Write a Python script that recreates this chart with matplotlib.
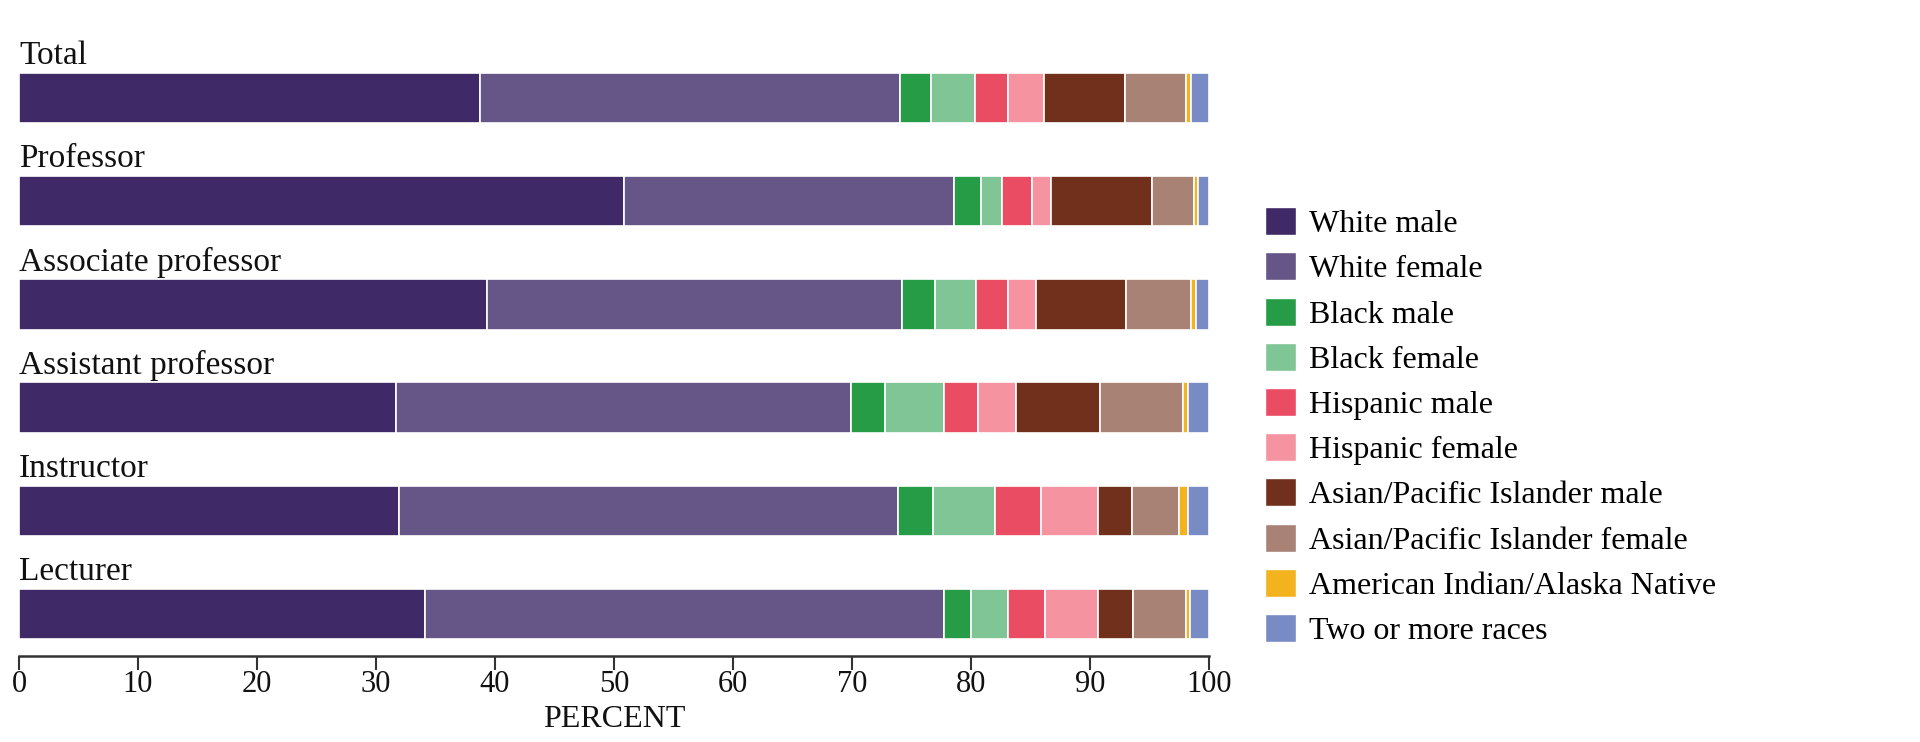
import numpy as np
import matplotlib
matplotlib.use("Agg")
import matplotlib.pyplot as plt
from matplotlib.patches import Patch

plt.rcParams['font.family'] = ['Liberation Serif', 'DejaVu Serif']

# ranks, top to bottom
ranks = ["Total", "Professor", "Associate professor", "Assistant professor",
         "Instructor", "Lecturer"]

groups = ["White male", "White female", "Black male", "Black female",
          "Hispanic male", "Hispanic female", "Asian/Pacific Islander male",
          "Asian/Pacific Islander female", "American Indian/Alaska Native",
          "Two or more races"]

colors = ["#3f2967", "#665587", "#279c47", "#80c595", "#e94c63",
          "#f693a0", "#70301b", "#a78275", "#f2b31f", "#788bc5"]

# percent shares, one list per group, in rank order
white_male = [38.7, 50.8, 39.3, 31.7, 31.9, 34.1]
white_female = [35.3, 27.8, 34.9, 38.2, 42.0, 43.6]
black_male = [2.6, 2.2, 2.8, 2.9, 2.9, 2.3]
black_female = [3.7, 1.8, 3.4, 4.9, 5.2, 3.1]
hispanic_male = [2.8, 2.5, 2.7, 2.9, 3.9, 3.1]
hispanic_female = [3.0, 1.6, 2.4, 3.2, 4.8, 4.5]
asian_male = [6.8, 8.5, 7.5, 7.0, 2.8, 2.9]
asian_female = [5.2, 3.5, 5.5, 7.0, 4.0, 4.5]
aian = [0.4, 0.4, 0.4, 0.4, 0.7, 0.3]
two_plus = [1.5, 0.9, 1.1, 1.8, 1.8, 1.6]

series = [white_male, white_female, black_male, black_female, hispanic_male,
          hispanic_female, asian_male, asian_female, aian, two_plus]

fig = plt.figure(figsize=(19.2, 7.42), dpi=100)
ax = fig.add_axes([0.0099, 0.1153, 0.6198, 0.857])

ypos = np.arange(len(ranks))
bar_h = 0.49
left = np.zeros(len(ranks))
for vals, col in zip(series, colors):
    vals = np.array(vals)
    ax.barh(ypos, vals, left=left, height=bar_h, color=col,
            edgecolor="white", linewidth=1.2)
    left += vals

for y, name in zip(ypos, ranks):
    ax.text(0, y - bar_h / 2 - 0.165, name, ha="left", va="center",
            fontsize=24, color="#111111")

ax.set_xlim(0, 100)
ax.set_ylim(5.41, -0.75)
ax.set_xticks(np.arange(0, 101, 10))
ax.tick_params(axis="x", length=10, width=1.5, labelsize=22, pad=0,
               color="#333333", labelcolor="#111111")
ax.set_yticks([])
for s in ["top", "right", "left"]:
    ax.spines[s].set_visible(False)
ax.spines["bottom"].set_linewidth(1.8)
ax.spines["bottom"].set_color("#333333")
ax.set_xlabel("PERCENT", fontsize=23, color="#111111", labelpad=4)

handles = [Patch(facecolor=c, edgecolor="white") for c in colors]
fig.legend(handles, groups, loc="upper left", bbox_to_anchor=(0.652, 0.738),
           frameon=False, fontsize=23, handlelength=0.97, handleheight=0.97,
           handletextpad=0.42, labelspacing=0.415, borderaxespad=0)

fig.savefig("out.png", dpi=100)
